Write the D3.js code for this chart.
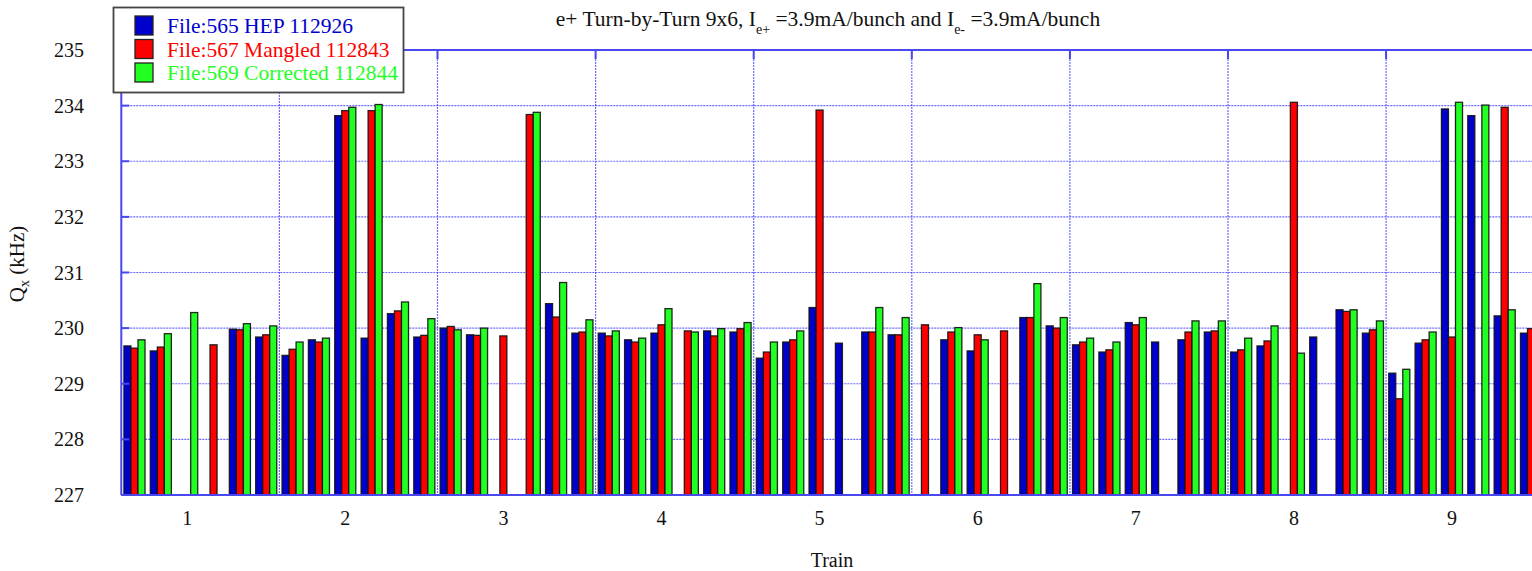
<!DOCTYPE html>
<html>
<head>
<meta charset="utf-8">
<script src="https://cdn.jsdelivr.net/npm/d3@7"></script>
<style>
  html, body { margin: 0; padding: 0; background: #fff; }
</style>
</head>
<body>
<svg id="chart" width="1532" height="571"></svg>
<script>
// Horizontal tune Qx (kHz) per bunch, 9 trains x 6 bunches; null = no measurement
const trains = ["1", "2", "3", "4", "5", "6", "7", "8", "9"];
const bunchesPerTrain = 6;

const hepValues = [
  229.68, 229.59, null,   null,   229.98, 229.84,
  229.51, 229.79, 233.82, 229.82, 230.26, 229.84,
  230.00, 229.88, null,   null,   230.44, 229.91,
  229.91, 229.79, 229.91, null,   229.95, 229.93,
  229.46, 229.75, 230.37, 229.73, 229.93, 229.88,
  null,   229.79, 229.59, null,   230.19, 230.04,
  229.70, 229.57, 230.10, 229.75, 229.79, 229.93,
  229.57, 229.68, null,   229.84, 230.33, 229.91,
  229.19, 229.73, 233.94, 233.82, 230.22, 229.91
];
const mangledValues = [
  229.64, 229.66, null,   229.70, 229.97, 229.88,
  229.62, 229.75, 233.91, 233.91, 230.31, 229.87,
  230.03, 229.87, 229.86, 233.84, 230.20, 229.93,
  229.86, 229.75, 230.06, 229.95, 229.86, 229.99,
  229.57, 229.79, 233.92, null,   229.93, 229.88,
  230.06, 229.93, 229.88, 229.95, 230.19, 230.00,
  229.75, 229.61, 230.06, null,   229.93, 229.95,
  229.61, 229.77, 234.06, null,   230.30, 229.97,
  228.73, 229.79, 229.84, null,   233.97, 229.99
];
const correctedValues = [
  229.79, 229.90, 230.28, null,   230.08, 230.04,
  229.75, 229.82, 233.97, 234.02, 230.47, 230.17,
  229.97, 230.00, null,   233.88, 230.82, 230.15,
  229.95, 229.82, 230.35, 229.93, 229.99, 230.10,
  229.75, 229.95, null,   null,   230.37, 230.19,
  null,   230.01, 229.79, null,   230.80, 230.19,
  229.82, 229.75, 230.19, null,   230.13, 230.13,
  229.82, 230.04, 229.55, null,   230.33, 230.13,
  229.26, 229.93, 234.06, 234.01, 230.33, null
];

const seriesNames = ["File:565 HEP 112926", "File:567 Mangled 112843", "File:569 Corrected 112844"];
const seriesColors = ["#0000cc", "#ff0000", "#22ff22"];
const yTicks = [227, 228, 229, 230, 231, 232, 233, 234, 235];

const series = [hepValues, mangledValues, correctedValues];

const serif = "'Liberation Serif'";
const svg = d3.select("#chart");
const plotLeft = 121.3, plotTop = 50, plotBottom = 495;
const trainWidth = 158.1;
const plotRight = plotLeft + trains.length * trainWidth;

const bunchIds = d3.range(trains.length * bunchesPerTrain);
const x = d3.scaleBand().domain(bunchIds).range([plotLeft, plotRight])
  .paddingInner(0.2).paddingOuter(0.1);
const xSeries = d3.scaleBand().domain(d3.range(series.length)).range([0, x.bandwidth()]);
const y = d3.scaleLinear().domain([227, 235]).range([plotBottom, plotTop]);
const trainBoundary = d3.scaleLinear().domain([0, trains.length]).range([plotLeft, plotRight]);

const frameColor = "#4848ee";
const gridColor = "#3a3aff";

// grid
const grid = svg.append("g");
grid.selectAll("line.h").data(yTicks.filter(t => t > 227 && t < 235)).join("line")
  .attr("x1", plotLeft).attr("x2", plotRight)
  .attr("y1", d => y(d)).attr("y2", d => y(d))
  .attr("stroke", gridColor).attr("stroke-opacity", 0.75)
  .attr("stroke-width", 1.2).attr("stroke-dasharray", "2,1");
grid.selectAll("line.v").data(d3.range(1, trains.length)).join("line")
  .attr("x1", d => trainBoundary(d)).attr("x2", d => trainBoundary(d))
  .attr("y1", plotTop).attr("y2", plotBottom)
  .attr("stroke", gridColor).attr("stroke-opacity", 0.75)
  .attr("stroke-width", 1.2).attr("stroke-dasharray", "2,1");

// bars
const barData = [];
series.forEach((vals, s) => vals.forEach((v, i) => {
  if (v !== null) barData.push({ s, i, v });
}));
svg.append("g").selectAll("rect").data(barData).join("rect")
  .attr("x", d => x(d.i) + xSeries(d.s))
  .attr("y", d => y(d.v))
  .attr("width", xSeries.bandwidth())
  .attr("height", d => plotBottom - y(d.v))
  .attr("fill", d => seriesColors[d.s])
  .attr("stroke", "#111").attr("stroke-width", 1.3)
  .attr("stroke-opacity", 0.9);

// frame
const frame = svg.append("g").attr("stroke", frameColor).attr("stroke-width", 2);
frame.append("line").attr("x1", plotLeft).attr("x2", plotLeft).attr("y1", plotTop).attr("y2", plotBottom);
frame.append("line").attr("x1", plotLeft).attr("x2", plotRight).attr("y1", plotTop).attr("y2", plotTop);
frame.append("line").attr("x1", plotLeft).attr("x2", plotRight).attr("y1", plotBottom).attr("y2", plotBottom);
// inward ticks
frame.selectAll("line.yt").data(yTicks).join("line")
  .attr("x1", plotLeft).attr("x2", plotLeft + 8)
  .attr("y1", d => y(d)).attr("y2", d => y(d));
frame.selectAll("line.xt").data(d3.range(1, trains.length)).join("line")
  .attr("x1", d => trainBoundary(d)).attr("x2", d => trainBoundary(d))
  .attr("y1", plotTop).attr("y2", plotTop + 9);

// y tick labels
svg.append("g").selectAll("text").data(yTicks).join("text")
  .style("font-family", serif)
  .attr("x", 84).attr("y", d => y(d) + 7)
  .attr("text-anchor", "end").attr("font-size", 20).attr("fill", "#111")
  .text(d => d);

// train labels, placed under the third bunch of each train
svg.append("g").selectAll("text").data(trains).join("text")
  .style("font-family", serif)
  .attr("x", (d, k) => x(k * bunchesPerTrain + 2) + x.bandwidth() / 2)
  .attr("y", 525)
  .attr("text-anchor", "middle").attr("font-size", 20).attr("fill", "#111")
  .text(d => d);

// axis titles
svg.append("text").style("font-family", serif)
  .attr("x", 832).attr("y", 567).attr("text-anchor", "middle")
  .attr("font-size", 20).attr("fill", "#111").text("Train");

const yTitle = svg.append("text").style("font-family", serif)
  .attr("transform", "translate(24,264) rotate(-90)")
  .attr("text-anchor", "middle").attr("font-size", 21).attr("fill", "#111");
yTitle.append("tspan").text("Q");
yTitle.append("tspan").attr("font-size", 14).attr("dy", 5).text("x");
yTitle.append("tspan").attr("dy", -5).text(" (kHz)");

// chart title
const title = svg.append("text").style("font-family", serif)
  .attr("x", 828).attr("y", 26)
  .attr("text-anchor", "middle").attr("font-size", 21.5).attr("fill", "#111");
title.append("tspan").text("e+ Turn-by-Turn 9x6, I");
title.append("tspan").attr("font-size", 14).attr("dy", 8).text("e+");
title.append("tspan").attr("dy", -8).text(" =3.9mA/bunch and I");
title.append("tspan").attr("font-size", 14).attr("dy", 8).text("e-");
title.append("tspan").attr("dy", -8).text(" =3.9mA/bunch");

// legend
const legend = svg.append("g");
legend.append("rect").attr("x", 113.5).attr("y", 7.5).attr("width", 290).attr("height", 85)
  .attr("fill", "#fff").attr("stroke", "#444").attr("stroke-width", 1.8);
const items = legend.selectAll("g.item").data(seriesNames).join("g")
  .attr("transform", (d, i) => `translate(0, ${i * 23.5})`);
items.append("rect").attr("x", 135).attr("y", 16).attr("width", 18).attr("height", 19)
  .attr("fill", (d, i) => seriesColors[i]).attr("stroke", "#222").attr("stroke-width", 1.3);
items.append("text").style("font-family", serif)
  .attr("x", 167).attr("y", 33).attr("font-size", 21.5)
  .attr("fill", (d, i) => seriesColors[i]).text(d => d);
</script>
</body>
</html>
